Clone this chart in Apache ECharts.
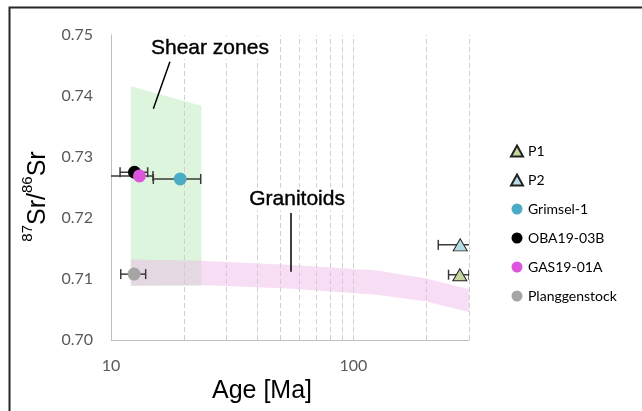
<!DOCTYPE html>
<html>
<head>
<meta charset="utf-8">
<script src="https://cdn.jsdelivr.net/npm/echarts@6/dist/echarts.min.js"></script>
<style>
  html, body { margin: 0; padding: 0; background: #fff; }
  #main { width: 642px; height: 411px; }
</style>
</head>
<body>
<div id="main"></div>
<script>
// samples: age [Ma] with error range, 87Sr/86Sr
var sampleNames = ['P1', 'P2', 'Grimsel-1', 'OBA19-03B', 'GAS19-01A', 'Planggenstock'];
var sampleColors = ['#c3d69b', '#b7dde8', '#4bacc6', '#000000', '#dd55dd', '#a5a5a5'];
var sampleSymbols = ['triangle', 'triangle', 'circle', 'circle', 'circle', 'circle'];
var sampleAge = [275, 276, 19.3, 12.5, 13.1, 12.45];
var sampleAgeLow = [247, 224, 14.95, 10.9, 9.0, 10.97];
var sampleAgeHigh = [300, 328, 23.45, 14.17, 14.9, 13.9];
var sampleSr = [0.7107, 0.7156, 0.7264, 0.7275, 0.7269, 0.7108];

// shear zone field
var shearAge = [12.06, 23.6, 23.6, 12.06];
var shearSr = [0.7416, 0.7384, 0.7089, 0.7089];

// granitoid band (upper / lower edge)
var granAge = [12.1, 23.5, 55.8, 125, 200, 300];
var granTop = [0.7132, 0.7130, 0.7123, 0.7114, 0.7101, 0.7083];
var granBottom = [0.7089, 0.7090, 0.7084, 0.7074, 0.7063, 0.7046];

// dashed vertical grid lines
var gridAges = [20, 30, 40, 50, 60, 70, 80, 90, 100, 200, 300];

// annotations
var annText = ['Shear zones', 'Granitoids'];
var annTextAge = [25.6, 58.6];
var annTextSr = [0.7479, 0.7231];
var annLines = [[17.5, 0.7456, 14.95, 0.7379], [55.3, 0.7208, 55.3, 0.7112]];

var chart = echarts.init(document.getElementById('main'));

function polygonRender(xs, ys, color) {
    return function (params, api) {
        if (params.dataIndex > 0) return;
        var pts = [];
        for (var i = 0; i < xs.length; i++) {
            pts.push(api.coord([xs[i], ys[i]]));
        }
        return { type: 'polygon', shape: { points: pts }, style: { fill: color } };
    };
}

var bandAge = granAge.concat(granAge.slice().reverse());
var bandSr = granTop.concat(granBottom.slice().reverse());

var errData = [];
for (var i = 0; i < sampleNames.length; i++) {
    errData.push([sampleAgeLow[i], sampleAgeHigh[i], sampleSr[i]]);
}

var series = [
    {
        type: 'custom',
        name: 'shear',
        silent: true,
        z: 1,
        renderItem: polygonRender(shearAge, shearSr, '#dcf5dc'),
        data: [[shearAge[0], shearSr[0]]],
        markLine: {
            silent: true,
            z: 2.5,
            symbol: ['none', 'none'],
            label: { show: false },
            lineStyle: { color: '#cfcfcf', type: [5, 3], width: 1 },
            data: gridAges.map(function (a) { return { xAxis: a }; })
        }
    },
    {
        type: 'custom',
        name: 'granitoids',
        silent: true,
        z: 2,
        renderItem: polygonRender(bandAge, bandSr, 'rgba(238,185,234,0.47)'),
        data: [[bandAge[0], bandSr[0]]]
    },
    {
        type: 'custom',
        name: 'annotations',
        silent: true,
        z: 3,
        renderItem: function (params, api) {
            if (params.dataIndex > 0) return;
            var children = [];
            for (var i = 0; i < annLines.length; i++) {
                var a = api.coord([annLines[i][0], annLines[i][1]]);
                var b = api.coord([annLines[i][2], annLines[i][3]]);
                children.push({ type: 'line', shape: { x1: a[0], y1: a[1], x2: b[0], y2: b[1] },
                    style: { stroke: '#000', lineWidth: 1.5 } });
            }
            for (var j = 0; j < annText.length; j++) {
                var p = api.coord([annTextAge[j], annTextSr[j]]);
                children.push({ type: 'text', x: p[0], y: p[1], style: {
                    text: annText[j], fill: '#000', align: 'center', verticalAlign: 'middle',
                    font: '21px "Liberation Sans", Arial, sans-serif',
                    stroke: '#000', lineWidth: 0.4,
                    backgroundColor: '#fff', padding: [1, 2] } });
            }
            return { type: 'group', children: children };
        },
        data: [[annTextAge[0], annTextSr[0]]]
    },
    {
        type: 'custom',
        name: 'errors',
        silent: true,
        z: 4,
        clip: true,
        encode: { x: [0, 1], y: 2 },
        renderItem: function (params, api) {
            var a = api.coord([api.value(0), api.value(2)]);
            var b = api.coord([api.value(1), api.value(2)]);
            var st = { stroke: '#3a3a3a', lineWidth: 1.5 };
            return { type: 'group', children: [
                { type: 'line', shape: { x1: a[0], y1: a[1], x2: b[0], y2: b[1] }, style: st },
                { type: 'line', shape: { x1: a[0], y1: a[1] - 5, x2: a[0], y2: a[1] + 5 }, style: st },
                { type: 'line', shape: { x1: b[0], y1: b[1] - 5, x2: b[0], y2: b[1] + 5 }, style: st }
            ] };
        },
        data: errData
    }
];

for (var k = 0; k < sampleNames.length; k++) {
    var tri = sampleSymbols[k] === 'triangle';
    series.push({
        type: 'scatter',
        name: sampleNames[k],
        symbol: sampleSymbols[k],
        symbolSize: tri ? [14, 12] : 13,
        z: 5 + k,
        itemStyle: { color: sampleColors[k], opacity: 1,
            borderColor: tri ? '#222' : sampleColors[k], borderWidth: tri ? 1 : 0 },
        data: [[sampleAge[k], sampleSr[k]]]
    });
}

var option = {
    animation: false,
    backgroundColor: '#fff',
    graphic: [{
        type: 'rect', left: 7, top: 5, silent: true,
        shape: { width: 700, height: 500 },
        style: { fill: 'none', stroke: '#262626', lineWidth: 2 }
    }],
    grid: { left: 111, right: 173, top: 35, bottom: 71 },
    legend: {
        orient: 'vertical',
        left: 505,
        top: 139,
        itemWidth: 12,
        itemHeight: 11,
        itemGap: 15,
        data: sampleNames,
        textStyle: { fontFamily: 'Lato', fontSize: 14, color: '#000', lineHeight: 14 }
    },
    xAxis: {
        type: 'log',
        logBase: 10,
        min: 10,
        max: 300,
        name: 'Age [Ma]',
        nameLocation: 'middle',
        nameGap: 19,
        nameTextStyle: { fontFamily: 'Liberation Sans', fontSize: 25, color: '#000',
            padding: [0, 56, 0, 0] },
        axisLine: { lineStyle: { color: '#bfbfbf', width: 1 } },
        axisTick: { show: false },
        splitLine: { show: false },
        axisLabel: {
            customValues: [10, 100],
            margin: 18,
            fontFamily: 'Lato', fontSize: 16, color: '#595959',
            formatter: function (v) { return (Math.abs(v - 10) < 0.01 || Math.abs(v - 100) < 0.1) ? String(Math.round(v)) : ''; }
        }
    },
    yAxis: {
        type: 'value',
        min: 0.70,
        max: 0.75,
        interval: 0.01,
        name: '{sup|87}{b|Sr/}{sup|86}{b|Sr}',
        nameLocation: 'middle',
        nameRotate: 90,
        nameGap: 59,
        nameTextStyle: {
            padding: [0, 18, 0, 0],
            rich: {
                b: { fontFamily: 'Liberation Sans', fontSize: 25, color: '#000', lineHeight: 30, verticalAlign: 'bottom' },
                sup: { fontFamily: 'Liberation Sans', fontSize: 15, color: '#000', lineHeight: 15, verticalAlign: 'top' }
            }
        },
        axisLine: { show: true, lineStyle: { color: '#bfbfbf', width: 1 } },
        axisTick: { show: false },
        splitLine: { show: false },
        axisLabel: {
            margin: 18,
            fontFamily: 'Lato', fontSize: 16, color: '#595959',
            formatter: function (v) { return v.toFixed(2); }
        }
    },
    series: series
};

chart.setOption(option);
</script>
</body>
</html>
